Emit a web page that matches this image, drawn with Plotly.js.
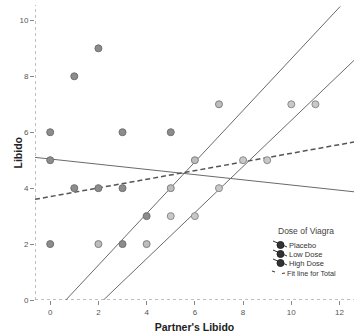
<!DOCTYPE html>
<html><head><meta charset="utf-8">
<script src="https://cdn.plot.ly/plotly-3.0.1.min.js"></script>
<style>html,body{margin:0;padding:0;background:#fff}#c{width:354px;height:335px}</style>
</head><body><div id="c"></div>
<script>
// Points: partner's libido (x) and libido (y)
var placeboX = [5, 6, 7, 8, 9, 10, 11];
var placeboY = [3, 3, 4, 5, 5, 7, 7];
var lowX = [2, 4, 5, 6, 7];
var lowY = [2, 2, 4, 5, 7];
var highX = [0, 1, 2, 3, 5, 0, 1, 2, 3, 0, 3, 4];
var highY = [6, 8, 9, 6, 6, 5, 4, 4, 4, 2, 2, 3];
// Fit line endpoints
var fitLowX = [0.65, 12.03];
var fitLowY = [0, 10.5];
var fitPlaceboX = [2.21, 12.6];
var fitPlaceboY = [0, 8.57];
var fitHighX = [-0.63, 12.6];
var fitHighY = [5.1, 3.87];
var fitTotalX = [-0.63, 12.6];
var fitTotalY = [3.6, 5.65];
var xTicks = [0, 2, 4, 6, 8, 10, 12];
var yTicks = [0, 2, 4, 6, 8, 10];
var legendNames = ['Placebo', 'Low Dose', 'High Dose'];
var legendTitle = 'Dose of Viagra';
var totalName = 'Fit line for Total';

var fnt = 'Liberation Sans, Arial, sans-serif';
var ML = 35, MT = 5, PW = 319, PH = 295;
function px(x) { return (x - ML) / PW; }
function py(y) { return (MT + PH - y) / PH; }

function pts(x, y, name, fill, edge) {
  return {x: x, y: y, type: 'scatter', mode: 'markers', name: name, showlegend: false,
    marker: {size: 7, color: fill, line: {color: edge, width: 1}}, cliponaxis: false};
}
function fit(x, y, dash, w, col) {
  return {x: x, y: y, type: 'scatter', mode: 'lines', showlegend: false, hoverinfo: 'skip',
    line: {color: col, width: w, dash: dash}};
}
var data = [
  fit(fitLowX, fitLowY, 'solid', 1, '#6a6a6a'),
  fit(fitPlaceboX, fitPlaceboY, 'solid', 1, '#6a6a6a'),
  fit(fitHighX, fitHighY, 'solid', 1, '#6a6a6a'),
  fit(fitTotalX, fitTotalY, '5px,3px', 1.5, '#555'),
  pts(placeboX, placeboY, legendNames[0], '#c8c8c8', '#8a8a8a'),
  pts(lowX, lowY, legendNames[1], '#bdbdbd', '#7f7f7f'),
  pts(highX, highY, legendNames[2], '#8c8c8c', '#707070')
];

// manual legend (symbols as shapes, texts as annotations)
var shapes = [
  {type: 'line', xref: 'paper', yref: 'y', x0: 0, x1: 1, y0: 0, y1: 0,
   line: {color: '#ababab', width: 1.5, dash: '3px,3px'}, layer: 'below'},
  {type: 'line', xref: 'x', yref: 'paper', x0: -0.63, x1: -0.63, y0: 0, y1: 1,
   line: {color: '#ababab', width: 1.5, dash: '3px,3px'}, layer: 'below'}
];
var annotations = [
  {xref: 'paper', yref: 'paper', x: px(276), y: py(231), xanchor: 'left', yanchor: 'middle',
   text: legendTitle, showarrow: false, font: {size: 8.5, color: '#444', family: fnt}},
  {xref: 'paper', yref: 'paper', x: px(17), y: 0.5, xanchor: 'center', yanchor: 'middle',
   textangle: -90, text: '<b>Libido</b>', showarrow: false, font: {size: 10.5, color: '#222', family: fnt}}
];
var rowY = [245, 254, 263];
for (var i = 0; i < 3; i++) {
  var cy = rowY[i];
  shapes.push({type: 'line', xref: 'paper', yref: 'paper', x0: px(273), y0: py(cy - 4), x1: px(287), y1: py(cy + 2),
    line: {color: '#333', width: 1}});
  shapes.push({type: 'circle', xref: 'paper', yref: 'paper', x0: px(277), x1: px(284), y0: py(cy - 3.5), y1: py(cy + 3.5),
    fillcolor: '#333', line: {color: '#222', width: 1}});
  annotations.push({xref: 'paper', yref: 'paper', x: px(287), y: py(cy), xanchor: 'left', yanchor: 'middle',
    text: legendNames[i], showarrow: false, font: {size: 7.5, color: '#333', family: fnt}});
}
shapes.push({type: 'line', xref: 'paper', yref: 'paper', x0: px(272), y0: py(271), x1: px(275), y1: py(272),
  line: {color: '#444', width: 1.2}});
shapes.push({type: 'line', xref: 'paper', yref: 'paper', x0: px(282), y0: py(273.5), x1: px(285), y1: py(273),
  line: {color: '#444', width: 1.2}});
annotations.push({xref: 'paper', yref: 'paper', x: px(285), y: py(273), xanchor: 'left', yanchor: 'middle',
  text: totalName, showarrow: false, font: {size: 7.2, color: '#333', family: fnt}});

var layout = {
  width: 354, height: 335,
  margin: {l: ML, r: 0, t: MT, b: 35},
  paper_bgcolor: '#fff', plot_bgcolor: '#fff',
  font: {family: fnt, color: '#444'},
  showlegend: false,
  xaxis: {range: [-0.63, 12.6], tickvals: xTicks, ticks: 'outside', ticklen: 4, tickcolor: '#888',
    showgrid: false, zeroline: false, showline: false,
    tickfont: {size: 8, color: '#555'},
    title: {text: "<b>Partner's Libido</b>", font: {size: 10.5, color: '#222'}, standoff: 8}},
  yaxis: {range: [0, 10.55], tickvals: yTicks, ticks: 'outside', ticklen: 4, tickcolor: '#888',
    showgrid: false, zeroline: false, showline: false,
    tickfont: {size: 8, color: '#555'}},
  shapes: shapes,
  annotations: annotations
};
Plotly.newPlot('c', data, layout, {displayModeBar: false, staticPlot: true});
</script></body></html>
